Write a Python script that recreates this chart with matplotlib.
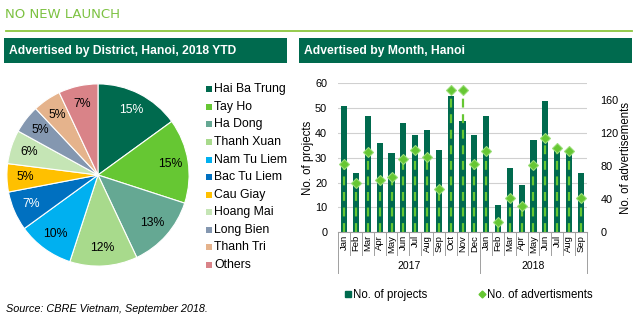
import numpy as np
import matplotlib
matplotlib.use("Agg")
import matplotlib.pyplot as plt
from matplotlib.patches import Rectangle
from matplotlib.lines import Line2D
import matplotlib.transforms as mtransforms

plt.rcParams['font.family'] = ['Liberation Sans', 'DejaVu Sans']

# data
districts = ['Hai Ba Trung', 'Tay Ho', 'Ha Dong', 'Thanh Xuan', 'Nam Tu Liem',
             'Bac Tu Liem', 'Cau Giay', 'Hoang Mai', 'Long Bien', 'Thanh Tri', 'Others']
shares = [15, 15, 13, 12, 10, 7, 5, 6, 5, 5, 7]
pie_colors = ['#006a4e', '#66c733', '#65a893', '#a8da8c', '#00b0f0',
              '#0070c0', '#ffc000', '#c5e5b5', '#8497b0', '#e5b38c', '#d98388']
pct_colors = ['white', 'black', 'black', 'black', 'black',
              'white', 'black', 'black', 'black', 'black', 'black']

months = ['Jan', 'Feb', 'Mar', 'Apr', 'May', 'Jun', 'Jul', 'Aug', 'Sep', 'Oct', 'Nov', 'Dec',
          'Jan', 'Feb', 'Mar', 'Apr', 'May', 'Jun', 'Jul', 'Aug', 'Sep']
years = ['2017', '2018']
year_len = [12, 9]
projects = [51, 24, 47, 36, 32, 44, 39, 41, 33, 55, 45, 39,
            47, 11, 26, 19, 37, 53, 34, 33, 24]
adverts = [82, 59, 97, 63, 67, 89, 99, 91, 52, 172, 172, 82,
           98, 12, 42, 32, 81, 114, 102, 98, 41]

W, H = 638, 322
DG = '#006a4e'
LG = '#66c733'

def box(x0, y0, x1, y1):
    # pixel box (top-left origin) -> figure fraction rect
    return [x0 / W, 1 - y1 / H, (x1 - x0) / W, (y1 - y0) / H]

fig = plt.figure(figsize=(W / 100, H / 100), dpi=100)

# top title and rule
fig.text(5 / W, 1 - 15 / H, 'NO NEW LAUNCH', color='#7dc242', fontsize=9.5,
         family=['DejaVu Sans'], va='center', ha='left')
fig.add_artist(Line2D([6 / W, 632 / W], [1 - 31 / H] * 2, color='#8cc63f', lw=1.3))

# header bars
for (x0, x1, txt) in [(4, 287, 'Advertised by District, Hanoi, 2018 YTD'),
                      (299, 632, 'Advertised by Month, Hanoi')]:
    fig.add_artist(Rectangle((x0 / W, 1 - 63 / H), (x1 - x0) / W, 25 / H,
                             transform=fig.transFigure, color=DG, lw=0))
    fig.text((x0 + 5) / W, 1 - 51 / H, txt, color='white', fontsize=8.7,
             fontweight='bold', va='center', ha='left')

# pie
axp = fig.add_axes(box(6, 83, 190, 267))
wedges, _, autotexts = axp.pie(shares, colors=pie_colors, startangle=90, counterclock=False,
                               autopct='%d%%', pctdistance=0.8,
                               wedgeprops=dict(edgecolor='white', linewidth=0.8),
                               textprops=dict(fontsize=8.8))
for t, c in zip(autotexts, pct_colors):
    t.set_color(c)
axp.set_xlim(-1.01, 1.01)
axp.set_ylim(-1.01, 1.01)
axp.set_aspect('auto')

# pie legend
for i, name in enumerate(districts):
    yy = 89.3 + i * 17.57
    fig.add_artist(Rectangle((206 / W, 1 - (yy + 3) / H), 6 / W, 6 / H,
                             transform=fig.transFigure, color=pie_colors[i], lw=0))
    fig.text(214 / W, 1 - yy / H, name, fontsize=8.8, va='center', ha='left')

# bar + marker chart
ax = fig.add_axes(box(338.3, 83.3, 586.7, 232.3))
x = np.arange(len(months))
ax.bar(x, projects, width=0.52, color=DG, zorder=2)
ax.set_xlim(-0.5, len(months) - 0.5)
ax.set_ylim(0, 60)
ax.set_yticks(range(0, 61, 10))
ax.yaxis.grid(True, color='#d0d0d0', lw=0.8, zorder=0)
ax.set_axisbelow(True)
for s in ['top', 'right', 'left']:
    ax.spines[s].set_visible(False)
ax.spines['bottom'].set_color('#a0a0a0')
ax.tick_params(axis='y', length=0, labelsize=7.8, pad=8)
ax.set_xticks(x)
ax.set_xticklabels(months, rotation=90, fontsize=6.8)
ax.tick_params(axis='x', length=0, pad=2)
ax.set_ylabel('No. of projects', fontsize=8.3, labelpad=1)

ax2 = ax.twinx()
ax2.set_ylim(0, 180)
ax2.set_yticks(range(0, 161, 40))
ax2.vlines(x, 0, adverts, colors=LG, linestyles=(0, (4, 3)), lw=1.6, zorder=3)
ax2.plot(x, adverts, ls='none', marker='D', ms=5, color=LG, mec='#99dd77', mew=0.8, zorder=4)
for s in ['top', 'right', 'left', 'bottom']:
    ax2.spines[s].set_visible(False)
ax2.tick_params(axis='y', length=0, labelsize=7.8, pad=10)
ax2.set_ylabel('No. of advertisements', fontsize=8.3, labelpad=1)

# category separators and year groups
tr = mtransforms.blended_transform_factory(ax.transData, ax.transAxes)
yb1 = -(255 - 232.3) / (232.3 - 83.3)
yb2 = -(273 - 232.3) / (232.3 - 83.3)
for i in range(len(months) + 1):
    ax.plot([i - 0.5, i - 0.5], [0, yb1], transform=tr, color='#a0a0a0', lw=0.7, clip_on=False)
start = 0
for yr, n in zip(years, year_len):
    ax.plot([start - 0.5, start - 0.5], [yb1, yb2], transform=tr, color='#a0a0a0', lw=0.7, clip_on=False)
    ax.text(start + (n - 1) / 2, -(266 - 232.3) / (232.3 - 83.3), yr, transform=tr, fontsize=7.5,
            ha='center', va='center')
    start += n
ax.plot([start - 0.5, start - 0.5], [yb1, yb2], transform=tr, color='#a0a0a0', lw=0.7, clip_on=False)

# legend for right chart
handles = [Line2D([], [], ls='none', marker='s', ms=5, color=DG),
           Line2D([], [], ls='none', marker='D', ms=3.5, color=LG)]
fig.legend(handles, ['No. of projects', 'No. of advertisments'], ncol=2, frameon=False,
           fontsize=8.3, loc='center', bbox_to_anchor=(468 / W, 1 - 295 / H),
           handletextpad=0.1, columnspacing=4.3, handlelength=0.8)

fig.text(6 / W, 1 - 309 / H, 'Source: CBRE Vietnam, September 2018.', fontsize=7.8,
         style='italic', va='center', ha='left')

fig.savefig('out.png', dpi=100)
